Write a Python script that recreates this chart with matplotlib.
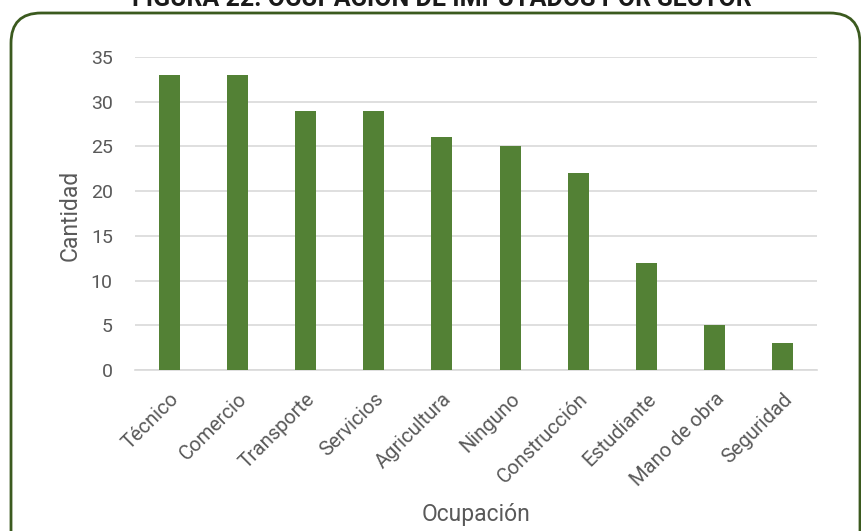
import matplotlib.pyplot as plt
from matplotlib.patches import FancyBboxPatch

categories = ["Técnico", "Comercio", "Transporte", "Servicios", "Agricultura",
              "Ninguno", "Construcción", "Estudiante", "Mano de obra", "Seguridad"]
values = [33, 33, 29, 29, 26, 25, 22, 12, 5, 3]
yticks = [0, 5, 10, 15, 20, 25, 30, 35]

title = "FIGURA 22. OCUPACIÓN DE IMPUTADOS POR SECTOR"
bar_color = "#538135"
text_color = "#595959"

plt.rcParams["font.family"] = ["Roboto", "DejaVu Sans"]

W, H = 862, 531
fig = plt.figure(figsize=(W / 100, H / 100), dpi=100)

# rounded green frame, bottom runs off the image
frame = FancyBboxPatch((11 / W, -40 / H), (860 - 11) / W, (531 - 13 + 40) / H,
                       boxstyle="round,pad=0,rounding_size=0.035",
                       transform=fig.transFigure, facecolor="white",
                       edgecolor="#3b5a1f", linewidth=2, mutation_aspect=W / H,
                       zorder=-5)
fig.patches.append(frame)

# title sits mostly above the image, as in the source
fig.text(442 / W, 1 - 6 / H, title, ha="center", va="baseline", fontsize=18,
         fontweight="bold", color="#1a1a1a")

ax = fig.add_axes([135 / W, 1 - 370 / H, (817 - 135) / W, (370 - 57) / H])
ax.set_zorder(2)
ax.set_facecolor("none")
x = range(len(categories))
ax.bar(x, values, width=0.31, color=bar_color, zorder=3)
ax.set_xlim(-0.5, len(categories) - 0.5)
ax.set_ylim(0, 35)
ax.set_yticks(yticks)
ax.grid(axis="y", color="#d9d9d9", linewidth=1.2, zorder=0)
for s in ["top", "right", "left"]:
    ax.spines[s].set_visible(False)
ax.spines["bottom"].set_color("#d9d9d9")
ax.spines["bottom"].set_linewidth(1.2)
ax.tick_params(length=0, colors=text_color)
ax.tick_params(axis="y", labelsize=14, pad=16)
ax.tick_params(axis="x", labelsize=14.5, pad=14)
ax.set_xticks(list(x))
ax.set_xticklabels(categories, rotation=45, ha="right", rotation_mode="anchor")
ax.set_ylabel("Cantidad", fontsize=16.5, color=text_color, va="center")
ax.yaxis.set_label_coords(-0.0953, 0.495)
ax.set_xlabel("Ocupación", fontsize=16.5, color=text_color, va="center")
ax.xaxis.set_label_coords(0.5, -0.463)

fig.savefig("out.png", dpi=100)
